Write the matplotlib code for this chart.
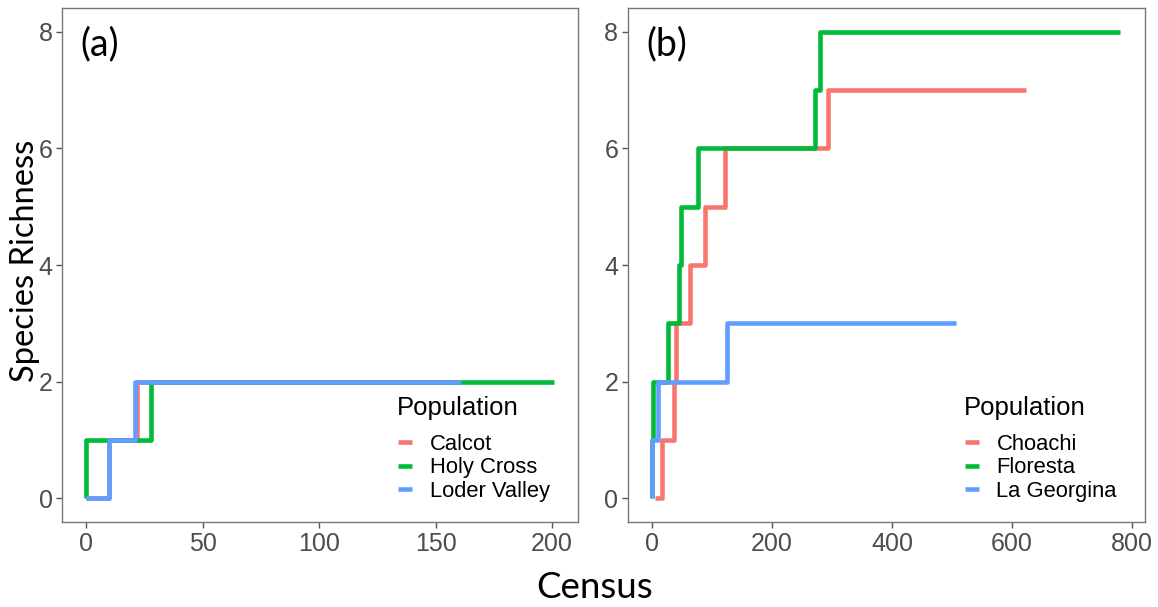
import numpy as np
import matplotlib
matplotlib.use("Agg")
import matplotlib.pyplot as plt

# panel (a) populations
a_names = ["Calcot", "Holy Cross", "Loder Valley"]
calcot_x = [0, 10, 22, 160]
calcot_y = [0, 1, 2, 2]
holy_x = [0, 0, 28, 201]
holy_y = [0, 1, 2, 2]
loder_x = [0, 10, 21, 161]
loder_y = [0, 1, 2, 2]

# panel (b) populations
b_names = ["Choachi", "Floresta", "La Georgina"]
choachi_x = [5, 17, 37, 39, 63, 88, 122, 293, 623]
choachi_y = [0, 1, 2, 3, 4, 5, 6, 7, 7]
floresta_x = [0, 0, 1, 27, 45, 48, 77, 272, 280, 781]
floresta_y = [0, 1, 2, 3, 4, 5, 6, 7, 8, 8]
georgina_x = [0, 0, 9, 125, 506]
georgina_y = [0, 1, 2, 3, 3]

cols = ["#F8766D", "#00BA38", "#619CFF"]
tickc = "#4D4D4D"

fig = plt.figure(figsize=(11.58, 6.07), dpi=100)
axa = fig.add_axes([0.0538, 0.140, 0.4451, 0.8468])
axb = fig.add_axes([0.5423, 0.140, 0.4465, 0.8468])


def style(ax, xticks, xlim, label, names):
    ax.set_xlim(*xlim)
    ax.set_ylim(-0.41, 8.41)
    ax.set_xticks(xticks)
    ax.set_yticks([0, 2, 4, 6, 8])
    ax.tick_params(direction="out", length=4, width=1, color="#555555",
                   labelcolor=tickc, labelsize=18, pad=3)
    for lab in ax.get_xticklabels() + ax.get_yticklabels():
        lab.set_family("Liberation Sans")
    for s in ax.spines.values():
        s.set_color("#777777")
        s.set_linewidth(1)
    ax.text(0.035, 0.93, label, transform=ax.transAxes, fontsize=27,
            family="Lato", va="center", ha="left")
    ax.text(0.649, 0.222, "Population", transform=ax.transAxes, fontsize=18.5,
            family="Liberation Sans", va="center", ha="left")
    ax.legend(names, loc="upper left", bbox_to_anchor=(0.651, 0.171),
              frameon=False, handlelength=0.65, handletextpad=0.8,
              labelspacing=0.1, borderpad=0, borderaxespad=0,
              prop={"family": "Liberation Sans", "size": 15.8})


for x, y, c in zip([calcot_x, holy_x, loder_x], [calcot_y, holy_y, loder_y], cols):
    axa.step(x, y, where="post", color=c, lw=3.3, solid_capstyle="butt")
style(axa, [0, 50, 100, 150, 200], (-10.2, 211), "(a)", a_names)

for x, y, c in zip([choachi_x, floresta_x, georgina_x], [choachi_y, floresta_y, georgina_y], cols):
    axb.step(x, y, where="post", color=c, lw=3.3, solid_capstyle="butt")
style(axb, [0, 200, 400, 600, 800], (-40.5, 822), "(b)", b_names)

fig.text(0.0215, 0.57, "Species Richness", rotation=90, fontsize=23.5, family="Lato",
         ha="center", va="center")
fig.text(0.5135, 0.032, "Census", fontsize=26.5, family="Lato", ha="center", va="center")

fig.savefig("out.png", dpi=100)
